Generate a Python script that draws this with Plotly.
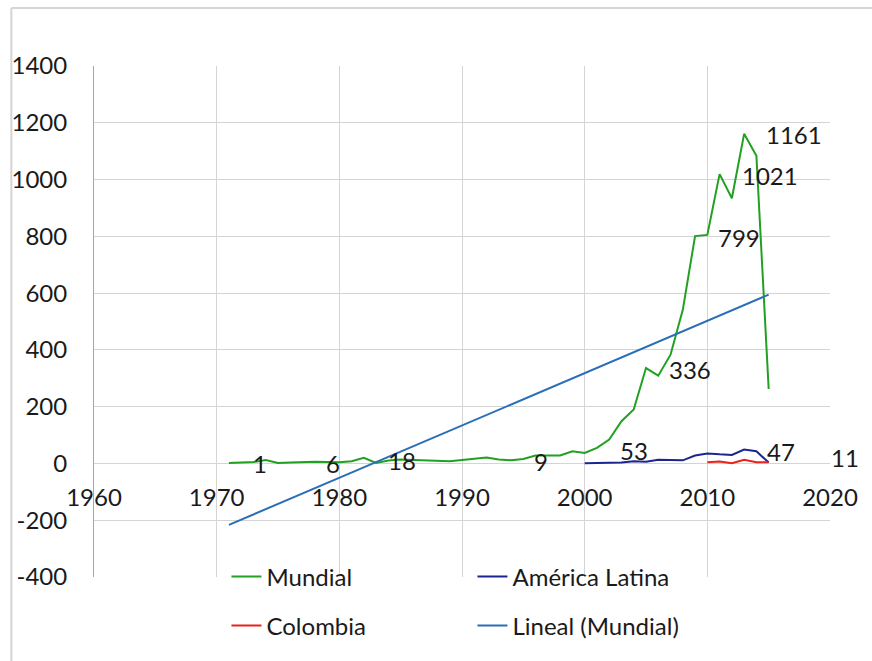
import numpy as np
import plotly.graph_objects as go

# ---- data ----
years_mundial = list(range(1971, 2016))
mundial = [2, 4, 5, 12, 2, 3, 5, 6, 5, 4, 8, 20, 2, 10, 14,
           12, 11, 9, 8, 12, 16, 21, 14, 11, 16, 28, 28, 28, 43,
           37, 55, 84, 149, 190, 336, 309, 383, 541, 801, 805, 1019, 934, 1161, 1084, 262]

years_latam = list(range(2000, 2016))
latam = [1, 1, 1, 3, 8, 6, 13, 11, 11, 28, 35, 32, 30, 49, 43, 3]

years_col = list(range(2010, 2016))
colombia = [4, 7, 1, 13, 4, 4]

label_texts = ["1", "6", "18", "9", "53", "336", "799", "1021", "1161", "47"]
label_x = [1973.5, 1979.5, 1985.1, 1996.4, 2004.0, 2008.6, 2012.6, 2015.1, 2017.1, 2016.0]
label_y = [0, 0, 11, 7, 46, 331, 796, 1014, 1159, 42]
outside_label = "11"

x_ticks = [1960, 1970, 1980, 1990, 2000, 2010, 2020]
y_ticks = [-400, -200, 0, 200, 400, 600, 800, 1000, 1200, 1400]

# linear trend of Mundial (as Excel's linear trendline)
slope, intercept = np.polyfit(years_mundial, mundial, 1)
trend_x = [years_mundial[0], years_mundial[-1]]
trend_y = [slope * x + intercept for x in trend_x]

FONT = "Lato"
TXT = "#1a1a1a"

fig = go.Figure()
fig.add_trace(go.Scatter(x=years_mundial, y=mundial, mode="lines", name="Mundial",
                         line=dict(color="#22a022", width=2), legend="legend"))
fig.add_trace(go.Scatter(x=years_latam, y=latam, mode="lines", name="América Latina",
                         line=dict(color="#1c2590", width=2), legend="legend"))
fig.add_trace(go.Scatter(x=years_col, y=colombia, mode="lines", name="Colombia",
                         line=dict(color="#e8231c", width=2), legend="legend2"))
fig.add_trace(go.Scatter(x=trend_x, y=trend_y, mode="lines", name="Lineal (Mundial)",
                         line=dict(color="#2a6fb6", width=2), legend="legend2"))

annotations = []
for t, x, y in zip(label_texts, label_x, label_y):
    annotations.append(dict(x=x, y=y, xref="x", yref="y", text=t, showarrow=False,
                            font=dict(family=FONT, size=24, color=TXT),
                            xanchor="center", yanchor="middle"))
annotations.append(dict(x=2020, y=21, xref="x", yref="y", text=outside_label, showarrow=False,
                        font=dict(family=FONT, size=24, color=TXT),
                        xanchor="center", yanchor="middle", xshift=15))

W, H = 872, 661
L, R, T, B = 91, 42, 66, 84
pw, ph = W - L - R, H - T - B

def px_to_paper_x(px):
    return (px - L) / pw

def px_to_paper_y(py):
    return (H - B - py) / ph

frame = [
    dict(type="line", xref="paper", yref="paper",
         x0=px_to_paper_x(8), x1=px_to_paper_x(W + 5), y0=px_to_paper_y(8), y1=px_to_paper_y(8),
         line=dict(color="#d4d4d4", width=2)),
    dict(type="line", xref="paper", yref="paper",
         x0=px_to_paper_x(8), x1=px_to_paper_x(8), y0=px_to_paper_y(8), y1=px_to_paper_y(H + 5),
         line=dict(color="#d4d4d4", width=2)),
]

legend_common = dict(orientation="h", bgcolor="rgba(0,0,0,0)",
                     font=dict(family=FONT, size=24, color=TXT),
                     entrywidth=201, entrywidthmode="pixels",
                     xanchor="left", yanchor="middle", itemwidth=30)

fig.update_layout(
    width=W, height=H,
    margin=dict(l=L, r=R, t=T, b=B),
    paper_bgcolor="white", plot_bgcolor="white",
    font=dict(family=FONT, size=24, color=TXT),
    showlegend=True,
    legend=dict(x=px_to_paper_x(224), y=px_to_paper_y(577), **legend_common),
    legend2=dict(x=px_to_paper_x(224), y=px_to_paper_y(626), **legend_common),
    xaxis=dict(range=[1960, 2020], tickvals=x_ticks, ticktext=[str(v) for v in x_ticks],
               showgrid=True, gridcolor="#d4d4d4", gridwidth=1.3,
               zeroline=False, showline=False, ticks="",
               anchor="free", position=px_to_paper_y(464),
               ticklabelstandoff=17,
               tickfont=dict(family=FONT, size=24, color=TXT)),
    yaxis=dict(range=[-400, 1400], tickvals=y_ticks, ticktext=[str(v) for v in y_ticks],
               showgrid=True, gridcolor="#d4d4d4", gridwidth=1.3,
               zeroline=False, showline=True, linecolor="#a6a6a6", linewidth=1,
               ticks="", ticklabelstandoff=21,
               tickfont=dict(family=FONT, size=24, color=TXT)),
    annotations=annotations,
    shapes=frame,
)

fig.write_html("out.html", config={"displayModeBar": False},
               post_script="document.body.style.margin='0';document.body.style.overflow='hidden';")
